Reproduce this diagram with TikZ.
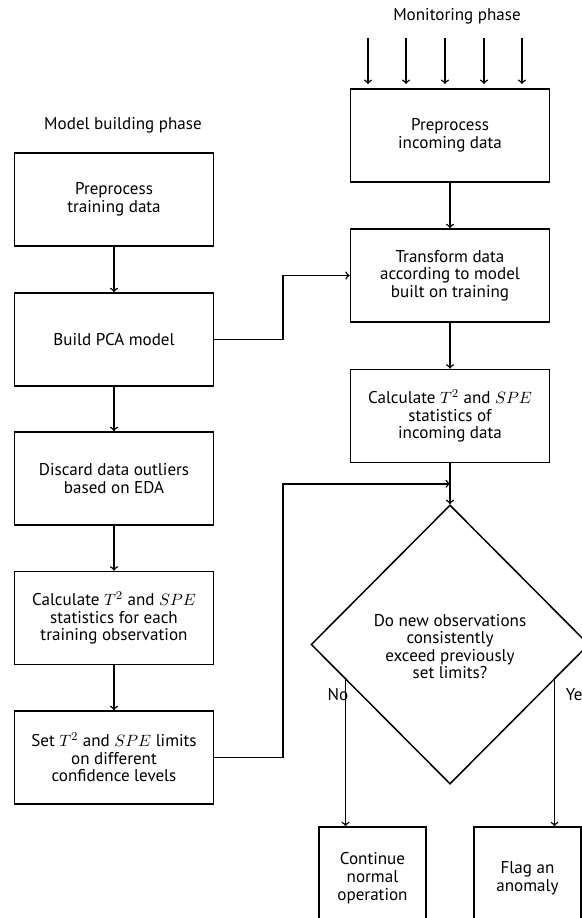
\documentclass[tikz,border=0pt]{standalone}
\usepackage{fontspec}
\setmainfont{PT Sans}
\usetikzlibrary{shapes.geometric,calc}
\begin{document}
\begin{tikzpicture}[x=0.0235cm, y=-0.0235cm, line width=1pt,
		every node/.style={font=\fontsize{11.4}{11.8}\selectfont},
		box/.style={draw, rectangle, align=center, minimum width=4.68cm, minimum height=2.19cm},
		smallbox/.style={draw, rectangle, align=center, minimum width=2.51cm, minimum height=2.4cm},
		decision/.style={draw, diamond, align=center, minimum width=6.53cm, minimum height=6.56cm, inner sep=0pt}]
		\useasboundingbox (0, 0) rectangle (582, 918);
		\clip (0, 0) rectangle (582, 918);
		% Model building phase
		\node (mtitle) at (123, 125) {Model building phase};
		\node[box] (prep) at (114, 199.5) {Preprocess\\training data};
		\node[box] (pca) at (114, 339.5) {Build PCA model};
		\node[box] (eda) at (114, 478.5) {Discard data outliers\\based on EDA};
		\node[box] (stat) at (114, 618) {Calculate $T^2$ and $SPE$\\statistics for each\\training observation};
		\node[box] (lim) at (114, 757.5) {Set $T^2$ and $SPE$ limits\\on different\\confidence levels};
		\draw[->] (prep) -- (pca);
		\draw[->] (pca) -- (eda);
		\draw[->] (eda) -- (stat);
		\draw[->] (stat) -- (lim);
		% Monitoring phase
		\node (ntitle) at (457, 16) {Monitoring phase};
		\node[box] (prepin) at (450, 135.5) {Preprocess\\incoming data};
		\node[box] (trans) at (450, 275.5) {Transform data\\according to model\\built on training};
		\node[box] (statin) at (450, 416) {Calculate $T^2$ and $SPE$\\statistics of\\incoming data};
		\node[decision] (dec) at (450, 644.5) {\\[-1pt]Do new observations\\consistently\\exceed previously\\set limits?};
		\node[smallbox] (cont) at (372.5, 878) {Continue\\normal\\operation};
		\node[smallbox] (flag) at (527.5, 878) {Flag an\\anomaly};
		\foreach \i/\x in {1/368, 2/406, 3/445, 4/484, 5/522} {
			\coordinate (in\i) at (\x, 38);
			\coordinate (out\i) at (\x, 84);
			\draw[->] (in\i) -- (out\i);
		}
		\draw[->] (prepin) -- (trans);
		\draw[->] (trans) -- (statin);
		\draw[->] (statin) -- (dec);
		\draw[->] (pca.east) -- ++(68.5, 0) |- (trans.west); % model -> transform
		\draw[->] (lim.east) -- ++(68.5, 0) |- ($(statin.south)!0.5!(dec.north)$); % limits
		% branches
		\coordinate (nostart) at ($(dec.west)!0.252!(dec.south)$);
		\coordinate (yesstart) at ($(dec.east)!0.252!(dec.south)$);
		\draw[->] (nostart) -- (nostart |- cont.north);
		\draw[->] (yesstart) -- (yesstart |- flag.north);
		\node[anchor=east, inner sep=0pt] (nolbl) at (349, 695) {No};
		\node[anchor=west, inner sep=0pt] (yeslbl) at (565, 695) {Yes};
	\end{tikzpicture}
\end{document}
